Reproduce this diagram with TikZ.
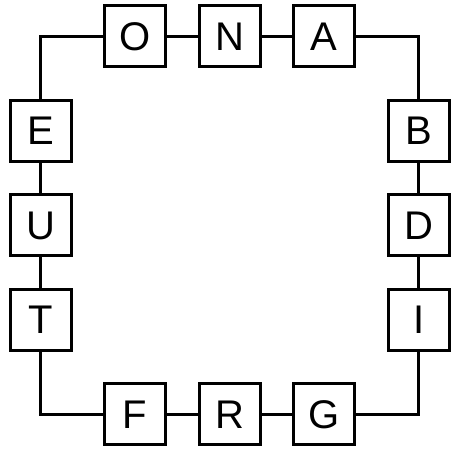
\documentclass[tikz,border=0pt]{standalone}
\usepackage{fontspec}
\setmainfont{Liberation Sans}
\begin{document}
\begin{tikzpicture}[x=1pt,y=1pt,
  letterbox/.style={draw,line width=3pt,minimum size=61pt,inner sep=0pt,font=\fontsize{40}{40}\selectfont},
  link/.style={line width=3pt}]
\useasboundingbox (0,0) rectangle (452,452);
\def\ca{40.5}\def\cb{135.1}\def\cc{229.7}\def\cd{324.3}\def\ce{418.9}
\def\ra{415.5}\def\rb{321}\def\rc{226.5}\def\rd{132}\def\re{37.5}
\node[letterbox] (o) at (\cb,\ra) {O};
\node[letterbox] (n) at (\cc,\ra) {N};
\node[letterbox] (a) at (\cd,\ra) {A};
\node[letterbox] (b) at (\ce,\rb) {B};
\node[letterbox] (d) at (\ce,\rc) {D};
\node[letterbox] (i) at (\ce,\rd) {I};
\node[letterbox] (g) at (\cd,\re) {G};
\node[letterbox] (r) at (\cc,\re) {R};
\node[letterbox] (f) at (\cb,\re) {F};
\node[letterbox] (t) at (\ca,\rd) {T};
\node[letterbox] (u) at (\ca,\rc) {U};
\node[letterbox] (e) at (\ca,\rb) {E};
\draw[link] (o) -- (n);
\draw[link] (n) -- (a);
\draw[link] (a) -| (b);
\draw[link] (b) -- (d);
\draw[link] (d) -- (i);
\draw[link] (g) -| (i);
\draw[link] (g) -- (r);
\draw[link] (r) -- (f);
\draw[link] (f) -| (t);
\draw[link] (t) -- (u);
\draw[link] (u) -- (e);
\draw[link] (o) -| (e);
\end{tikzpicture}
\end{document}
